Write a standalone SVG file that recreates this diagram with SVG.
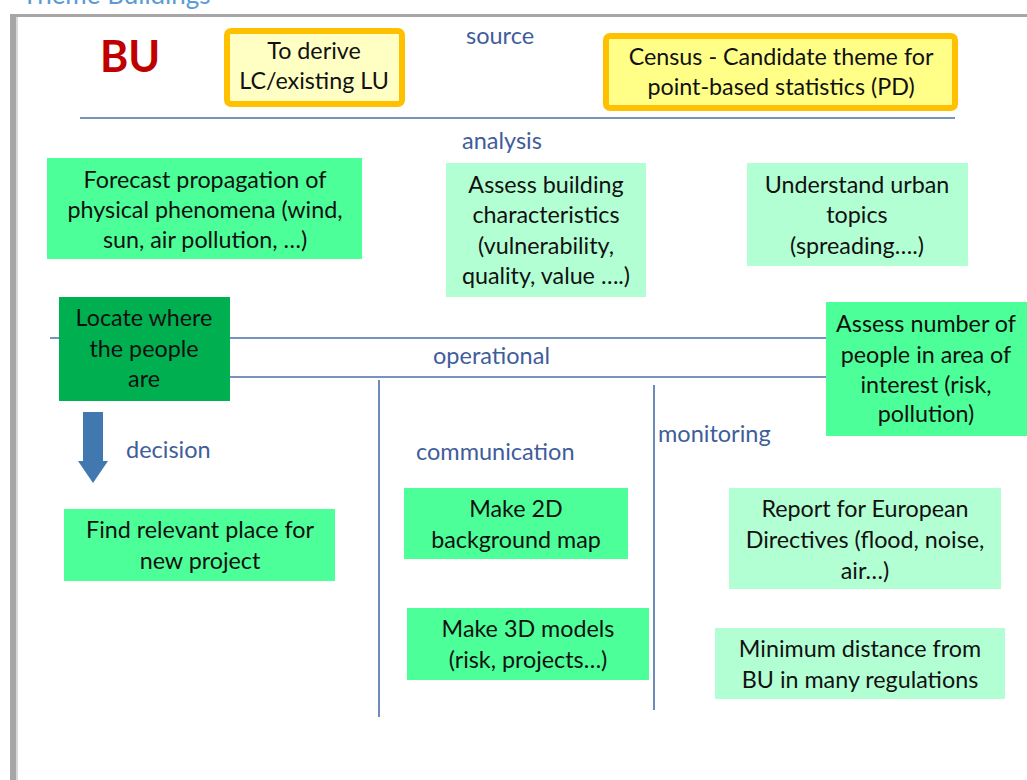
<svg xmlns="http://www.w3.org/2000/svg" width="1027" height="780" viewBox="0 0 1027 780">
<style>
  .t { font-family: Lato, "Liberation Sans", sans-serif; font-size: 23.3px; fill: #111; text-anchor: middle; }
  .lbl { font-family: Lato, "Liberation Sans", sans-serif; font-size: 23.5px; fill: #3f5d9b; }
  .bright { fill: #4cff98; }
  .pale { fill: #b3ffd4; }
  .src { stroke: #ffc000; stroke-width: 6; }
  .ln { stroke: #4a6ea6; stroke-width: 1.6; fill: none; }
</style>
<rect x="0" y="0" width="1027" height="780" fill="#ffffff"/>
<text x="22" y="4" font-family="Lato, 'Liberation Sans', sans-serif" font-size="26" fill="#5b9bd5">Theme  Buildings</text>
<g id="frame">
  <rect x="10" y="14" width="1017" height="3" fill="#a6a6a6"/>
  <rect x="10" y="14" width="6" height="766" fill="#a6a6a6"/>
  <rect x="16" y="17" width="2" height="763" fill="#d9d9d9"/>
</g>
<g id="connectors">
  <line class="ln" x1="80" y1="118" x2="955" y2="118"/>
  <line class="ln" x1="50" y1="338" x2="826" y2="338"/>
  <line class="ln" x1="230" y1="377" x2="826" y2="377"/>
  <line class="ln" x1="379" y1="380" x2="379" y2="717"/>
  <line class="ln" x1="654" y1="385" x2="654" y2="710"/>
  <polygon points="83,412 103,412 103,461 108,461 93,483 78,461 83,461" fill="#4178b0"/>
</g>
<g id="labels">
  <text x="100" y="72" font-family="Lato, 'Liberation Sans', sans-serif" font-size="43" font-weight="bold" fill="#c00000">BU</text>
  <text class="lbl" x="466" y="44">source</text>
  <text class="lbl" x="462" y="149">analysis</text>
  <text class="lbl" x="433" y="364">operational</text>
  <text class="lbl" x="126" y="458">decision</text>
  <text class="lbl" x="416" y="460">communication</text>
  <text class="lbl" x="658" y="442">monitoring</text>
</g>
<g id="node-derive">
  <rect class="src" x="227" y="31" width="175" height="73" rx="4" fill="#ffffc4"/>
  <text class="t" x="314" y="59">To  derive</text>
  <text class="t" x="314" y="89">LC/existing LU</text>
</g>
<g id="node-census">
  <rect class="src" x="606" y="36" width="349" height="72" rx="4" fill="#ffff88"/>
  <text class="t" x="781" y="65">Census - Candidate theme for</text>
  <text class="t" x="781" y="95">point-based statistics (PD)</text>
</g>
<g id="node-forecast">
  <rect class="bright" x="47" y="158" width="315" height="101"/>
  <text class="t" x="205" y="188">Forecast propagation of</text>
  <text class="t" x="205" y="218">physical phenomena (wind,</text>
  <text class="t" x="205" y="248">sun, air pollution, …)</text>
</g>
<g id="node-assess-building">
  <rect class="pale" x="446" y="163" width="200" height="134"/>
  <text class="t" x="546" y="193">Assess building</text>
  <text class="t" x="546" y="223">characteristics</text>
  <text class="t" x="546" y="254">(vulnerability,</text>
  <text class="t" x="546" y="284">quality, value ….)</text>
</g>
<g id="node-urban">
  <rect class="pale" x="747" y="163" width="221" height="103"/>
  <text class="t" x="857" y="193">Understand urban</text>
  <text class="t" x="857" y="223">topics</text>
  <text class="t" x="857" y="254">(spreading….)</text>
</g>
<g id="node-locate">
  <rect x="59" y="297" width="171" height="104" fill="#00b050"/>
  <text class="t" x="144" y="326">Locate where</text>
  <text class="t" x="144" y="357">the people</text>
  <text class="t" x="144" y="387">are</text>
</g>
<g id="node-assess-number">
  <rect class="bright" x="826" y="302" width="201" height="134"/>
  <text class="t" x="926" y="332">Assess number of</text>
  <text class="t" x="926" y="363">people in area of</text>
  <text class="t" x="926" y="393">interest (risk,</text>
  <text class="t" x="926" y="422">pollution)</text>
</g>
<g id="node-find">
  <rect class="bright" x="64" y="509" width="271" height="72"/>
  <text class="t" x="200" y="538">Find relevant place for</text>
  <text class="t" x="200" y="569">new project</text>
</g>
<g id="node-2d">
  <rect class="bright" x="404" y="488" width="224" height="71"/>
  <text class="t" x="516" y="517">Make 2D</text>
  <text class="t" x="516" y="548">background map</text>
</g>
<g id="node-3d">
  <rect class="bright" x="407" y="608" width="242" height="72"/>
  <text class="t" x="528" y="637">Make 3D models</text>
  <text class="t" x="528" y="668">(risk, projects…)</text>
</g>
<g id="node-report">
  <rect class="pale" x="729" y="488" width="272" height="101"/>
  <text class="t" x="865" y="517">Report for European</text>
  <text class="t" x="865" y="548">Directives (flood, noise,</text>
  <text class="t" x="865" y="579">air…)</text>
</g>
<g id="node-minimum">
  <rect class="pale" x="715" y="628" width="290" height="71"/>
  <text class="t" x="860" y="657">Minimum  distance from</text>
  <text class="t" x="860" y="688">BU in many regulations</text>
</g>
</svg>
